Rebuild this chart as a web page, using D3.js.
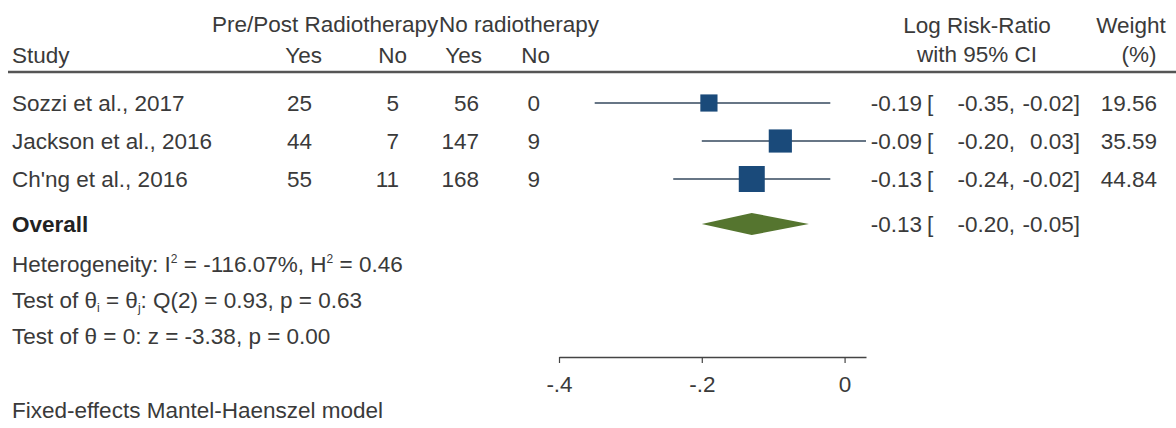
<!DOCTYPE html>
<html>
<head>
<meta charset="utf-8">
<script src="https://cdnjs.cloudflare.com/ajax/libs/d3/7.8.5/d3.min.js"></script>
<style>
  body { margin: 0; background: #fff; }
  text { font-family: "Liberation Sans", Arial, sans-serif; font-size: 22.5px; fill: #3a3a3a; }
</style>
</head>
<body>
<div id="chart"></div>
<script>
// data
var studies = ["Sozzi et al., 2017", "Jackson et al., 2016", "Ch'ng et al., 2016"];
var treatYes = [25, 44, 55];
var treatNo = [5, 7, 11];
var ctrlYes = [56, 147, 168];
var ctrlNo = [0, 9, 9];
var est = [-0.19, -0.09, -0.13];
var lower = [-0.35, -0.20, -0.24];
var upper = [-0.02, 0.03, -0.02];
var weight = [19.56, 35.59, 44.84];
var overall = [-0.13, -0.20, -0.05];   // estimate, lower, upper
var tickValues = [-0.4, -0.2, 0];
var tickLabels = ["-.4", "-.2", "0"];

const width = 1176;
const height = 428;

var svg = d3.select("#chart")
    .append("svg")
        .attr("width", width)
        .attr("height", height);

// plain hyphen instead of unicode minus
var f2 = d3.formatLocale({decimal: ".", thousands: ",", grouping: [3], currency: ["", ""], minus: "-"}).format(".2f");

// scales
var xScale = d3.scaleLinear()
    .domain([-0.4, 0.03])
    .range([559, 866]);
var yRow = d3.scalePoint()
    .domain(studies)
    .range([103, 179]);
var overallY = 224;
var sizeScale = d3.scaleSqrt()
    .domain([0, d3.max(weight)])
    .range([0, 26]);

// header
svg.append("text").attr("x", 212).attr("y", 32).text("Pre/Post Radiotherapy");
svg.append("text").attr("x", 439).attr("y", 32).text("No radiotherapy");
svg.append("text").attr("x", 12).attr("y", 63).text("Study");

var colHeads = ["Yes", "No", "Yes", "No"];
var headRight = [322, 407, 482, 550];
colHeads.forEach(function(h, i) {
    svg.append("text")
        .attr("x", headRight[i]).attr("y", 63)
        .style("text-anchor", "end")
        .text(h);
});

svg.append("text").attr("x", 977).attr("y", 33)
    .style("text-anchor", "middle").text("Log Risk-Ratio");
svg.append("text").attr("x", 977).attr("y", 62)
    .style("text-anchor", "middle").text("with 95% CI");
svg.append("text").attr("x", 1131).attr("y", 33)
    .style("text-anchor", "middle").text("Weight");
svg.append("text").attr("x", 1139).attr("y", 62)
    .style("text-anchor", "middle").text("(%)");

svg.append("line")
    .attr("x1", 8).attr("x2", width)
    .attr("y1", 72).attr("y2", 72)
    .style("stroke", "#555")
    .style("stroke-width", 2.5);

// study rows
var colRight = [312, 399, 479, 540];
var cols = [treatYes, treatNo, ctrlYes, ctrlNo];

studies.forEach(function(s, i) {
    var y = yRow(s);
    svg.append("text").attr("x", 12).attr("y", y).attr("dy", "0.35em").text(s);

    cols.forEach(function(c, j) {
        svg.append("text")
            .attr("x", colRight[j]).attr("y", y).attr("dy", "0.35em")
            .style("text-anchor", "end")
            .text(c[i]);
    });

    // CI line
    svg.append("line")
        .attr("x1", xScale(lower[i])).attr("x2", xScale(upper[i]))
        .attr("y1", y).attr("y2", y)
        .style("stroke", "#34495e")
        .style("stroke-width", 1.6);

    // weight square
    var sz = sizeScale(weight[i]);
    svg.append("rect")
        .attr("x", xScale(est[i]) - sz / 2)
        .attr("y", y - sz / 2)
        .attr("width", sz).attr("height", sz)
        .style("fill", "#1a4a7a");

    drawCI(y, est[i], lower[i], upper[i]);

    svg.append("text")
        .attr("x", 1157).attr("y", y).attr("dy", "0.35em")
        .style("text-anchor", "end")
        .text(f2(weight[i]));
});

function drawCI(y, e, lo, hi) {
    svg.append("text").attr("x", 922).attr("y", y).attr("dy", "0.35em")
        .style("text-anchor", "end").text(f2(e));
    svg.append("text").attr("x", 927).attr("y", y).attr("dy", "0.35em")
        .text("[");
    svg.append("text").attr("x", 1015).attr("y", y).attr("dy", "0.35em")
        .style("text-anchor", "end").text(f2(lo) + ",");
    svg.append("text").attr("x", 1080).attr("y", y).attr("dy", "0.35em")
        .style("text-anchor", "end").text(f2(hi) + "]");
}

// overall
svg.append("text").attr("x", 12).attr("y", overallY).attr("dy", "0.35em")
    .style("font-weight", "bold")
    .style("fill", "#222")
    .text("Overall");

var dh = 11;
var diamond = [
    [xScale(overall[1]), overallY],
    [xScale(overall[0]), overallY - dh],
    [xScale(overall[2]), overallY],
    [xScale(overall[0]), overallY + dh]
];
svg.append("path")
    .attr("d", d3.line()(diamond) + "Z")
    .style("fill", "#55752f");

drawCI(overallY, overall[0], overall[1], overall[2]);

// heterogeneity and tests
var het = svg.append("text").attr("x", 12).attr("y", 272);
het.append("tspan").text("Heterogeneity: I");
het.append("tspan").attr("dy", -9).style("font-size", "12px").text("2");
het.append("tspan").attr("dy", 9).text(" = -116.07%, H");
het.append("tspan").attr("dy", -9).style("font-size", "12px").text("2");
het.append("tspan").attr("dy", 9).text(" = 0.46");

var qt = svg.append("text").attr("x", 12).attr("y", 308);
qt.append("tspan").text("Test of \u03b8");
qt.append("tspan").attr("dy", 4).style("font-size", "12px").text("i");
qt.append("tspan").attr("dy", -4).text(" = \u03b8");
qt.append("tspan").attr("dy", 4).style("font-size", "12px").text("j");
qt.append("tspan").attr("dy", -4).text(": Q(2) = 0.93, p = 0.63");

svg.append("text").attr("x", 12).attr("y", 344)
    .text("Test of \u03b8 = 0: z = -3.38, p = 0.00");

svg.append("text").attr("x", 12).attr("y", 418)
    .text("Fixed-effects Mantel-Haenszel model");

//X Axis
var xAxis = d3.axisBottom(xScale)
    .tickValues(tickValues)
    .tickFormat(function(d, i) { return tickLabels[i]; })
    .tickSize(6)
    .tickSizeOuter(0)
    .tickPadding(13);

var ax = svg.append("g")
    .attr("transform", "translate(0,357)")
    .style("color", "#444")
    .call(xAxis);
ax.select(".domain").style("stroke-width", 1.5);
ax.selectAll(".tick line").style("stroke-width", 1.2);
ax.selectAll(".tick text").style("font-size", "22.5px");
</script>
</body>
</html>
